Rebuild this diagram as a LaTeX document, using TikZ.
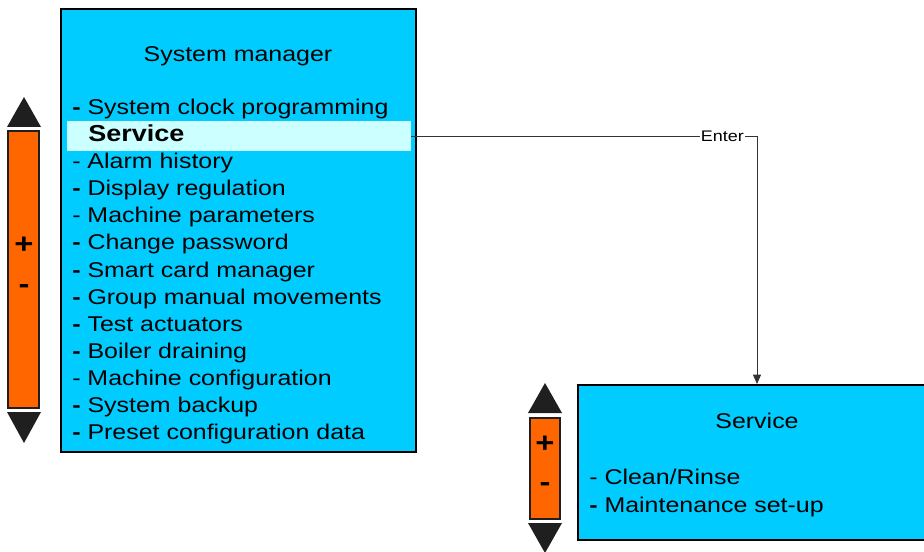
\documentclass[tikz,border=0pt]{standalone}
\usepackage{fontspec}
\setmainfont[FakeStretch=1.17]{Liberation Sans}
\usetikzlibrary{arrows.meta}

\definecolor{screen}{HTML}{00CCFF}
\definecolor{selrow}{HTML}{CCFFFF}
\definecolor{barorange}{HTML}{FF6600}
\definecolor{arrowdark}{HTML}{1F1F1F}

\tikzset{
  menubox/.style={draw=black, line width=1.5pt, fill=screen, inner sep=0pt},
  selbox/.style={fill=selrow, inner sep=0pt},
  entry/.style={anchor=base west, inner sep=0pt, font=\fontsize{16pt}{19pt}\selectfont},
  heading/.style={anchor=base, inner sep=0pt, font=\fontsize{16pt}{19pt}\selectfont},
  scrollbar/.style={draw=arrowdark, line width=1.2pt, fill=barorange},
  scrollarrow/.style={fill=arrowdark},
  sign/.style={inner sep=0pt, font=\fontsize{21pt}{24pt}\selectfont\bfseries},
  link/.style={draw=black!80, line width=0.6pt}
}

\begin{document}
\begin{tikzpicture}[x=0.75pt, y=-0.75pt]
    \useasboundingbox (0,0) rectangle (924,552);

    % system manager screen
    \node[menubox, minimum width=266.25pt, minimum height=332.25pt] (sysmgr) at (238.5,230.5) {};
    \node[selbox, minimum width=258pt, minimum height=22.5pt] (selservice) at (239,136) {};
    \node[heading] (sysmgrtitle) at (238,62) {System manager};

    \node[entry] (clock) at (72,115) {\textbf{-} System clock programming};
    \node[entry, font=\fontsize{17.3pt}{20pt}\selectfont\bfseries] (service) at (88,142) {Service};
    \node[entry] (alarm) at (72,169) {- Alarm history};
    \node[entry] (display) at (72,196) {\textbf{-} Display regulation};
    \node[entry] (params) at (72,223) {- Machine parameters};
    \node[entry] (passwd) at (72,250) {\textbf{-} Change password};
    \node[entry] (smartcard) at (72,277) {\textbf{-} Smart card manager};
    \node[entry] (group) at (72,304) {\textbf{-} Group manual movements};
    \node[entry] (actuators) at (72,331) {\textbf{-} Test actuators};
    \node[entry] (boiler) at (72,358) {\textbf{-} Boiler draining};
    \node[entry] (config) at (72,385) {- Machine configuration};
    \node[entry] (backup) at (72,412) {\textbf{-} System backup};
    \node[entry] (preset) at (72,439) {\textbf{-} Preset configuration data};

    % left scroll bar
    \fill[scrollarrow] (7,127) -- (24,97) -- (41,127) -- cycle;
    \draw[scrollbar] (8,131) rectangle (39,408);
    \fill[scrollarrow] (7,412) -- (41,412) -- (24,443) -- cycle;
    \node[sign] (plusA) at (24,245) {+};
    \node[sign] (minusA) at (24,289) {-};

    % service screen
    \node[menubox, minimum width=268.5pt, minimum height=116.25pt] (svc) at (757,462.5) {};
    \node[heading] (svctitle) at (757,428) {Service};
    \node[entry] (rinse) at (589,484) {- Clean/Rinse};
    \node[entry] (maint) at (589,512) {\textbf{-} Maintenance set-up};

    % right scroll bar
    \fill[scrollarrow] (528,413) -- (545,383) -- (562,413) -- cycle;
    \draw[scrollbar] (530,418) rectangle (560,519);
    \fill[scrollarrow] (528,523) -- (562,523) -- (545,553) -- cycle;
    \node[sign] (plusB) at (545,444) {+};
    \node[sign] (minusB) at (545,487) {-};

    % enter
    \draw[link, -{Triangle[length=7pt, width=6pt]}] (selservice.east) -| node[pos=0.45, fill=white, inner sep=1pt, font=\fontsize{11.5pt}{13pt}\selectfont] (enterlbl) {Enter} (svc.north);
\end{tikzpicture}
\end{document}
